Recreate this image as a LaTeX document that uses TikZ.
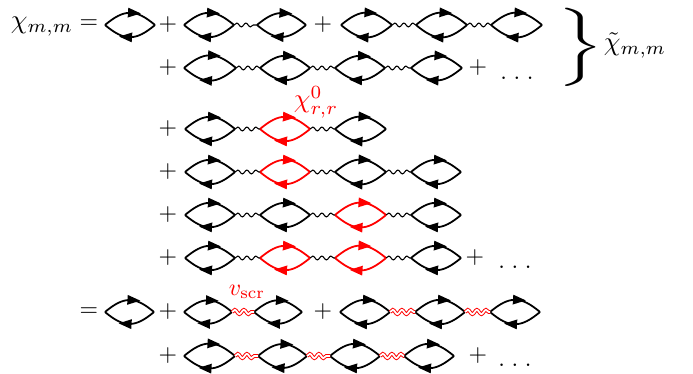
\documentclass[tikz,border=0pt]{standalone}
\usepackage{amsmath}
\usepackage{graphicx}
\usepackage{xcolor}
\usetikzlibrary{shapes.geometric, decorations.pathmorphing}

\begin{document}
\begin{tikzpicture}[
    x=0.42pt, y=0.42pt,
    bubblearc/.style={line width=0.75pt},
    tip/.style={shape=isosceles triangle, isosceles triangle apex angle=42, minimum height=5.4pt, inner sep=0pt, outer sep=0pt, pos=0.53, sloped, allow upside down},
    wiggle/.style={line width=0.45pt, decorate, decoration={snake, segment length=3.8pt, amplitude=0.8pt}},
    screened/.style={red, line width=0.4pt, double=white, double distance=0.75pt, decorate, decoration={snake, segment length=3.8pt, amplitude=0.9pt}},
    plus/.style={inner sep=0pt},
    biglabel/.style={inner sep=0pt, scale=1.12},
    redlabel/.style={biglabel, text=red}
]

% === BUBBLES: name / height / left end / right end / colour ===
\foreach \name/\ypos/\xl/\xr/\col in {
    aa/345/105/155/black, ab/345/184/234/black, ac/345/257/306/black, ad/345/341/392/black, ae/345/416/467/black, af/345/491/542/black,
    ba/302/184/236/black, bb/302/260/310/black, bc/302/335/385/black, bd/302/411/462/black,
    ca/241/185/235/black, cb/241/260/310/red, cc/241/335/386/black,
    da/198/185/235/black, db/198/260/310/red, dc/198/335/386/black, dd/198/411/461/black,
    ea/155/185/235/black, eb/155/260/310/black, ec/155/335/386/red, ed/155/411/461/black,
    fa/112/185/235/black, fb/112/260/310/red, fc/112/335/386/red, fd/112/411/461/black,
    ga/58/105/154/black, gb/58/184/232/black, gc/58/254/302/black, gd/58/340/390/black, ge/58/415/465/black, gf/58/490/540/black,
    ha/14/184/235/black, hb/14/258/307/black, hc/14/330/380/black, hd/14/404/454/black} {
    \coordinate (\name L) at (\xl, \ypos);
    \coordinate (\name R) at (\xr, \ypos);
    \draw[bubblearc, color=\col] (\name L) to[bend left=40, looseness=1.3] node[tip, fill=\col] (\name T) {} (\name R);
    \draw[bubblearc, color=\col] (\name R) to[bend left=40, looseness=1.3] node[tip, fill=\col] (\name B) {} (\name L);
}

% === INTERACTION LINES ===
\foreach \from/\to in {ab/ac, ad/ae, ae/af, ba/bb, bb/bc, bc/bd, ca/cb, cb/cc, da/db, db/dc, dc/dd, ea/eb, eb/ec, ec/ed, fa/fb, fb/fc, fc/fd} {
    \draw[wiggle] (\from R) -- (\to L);
}
\foreach \from/\to in {gb/gc, gd/ge, ge/gf, ha/hb, hb/hc, hc/hd} {
    \draw[screened] (\from R) -- (\to L);
}

% === PLUS SIGNS ===
\foreach \name/\xpos/\ypos in {pa/168/345, pb/323/345, pc/168/302, pd/478/302, pe/168/241, pf/168/198, pg/168/155, ph/168/112, pi/475/112, pj/168/58, pk/323/58, pl/168/14, pm/478/14} {
    \node[plus] (\name) at (\xpos, \ypos) {$+$};
}

% === DOTS ===
\node[plus, anchor=base] (dotsa) at (517, 291) {$.\;.\;.$};
\node[plus, anchor=base] (dotsb) at (515, 102) {$.\;.\;.$};
\node[plus, anchor=base] (dotsc) at (515, 4) {$.\;.\;.$};

% === LABELS ===
\node[biglabel] (chimm) at (42, 343) {$\chi_{m,m}$};
\node[plus] (eqa) at (89, 346) {$=$};
\node[plus] (eqb) at (89, 58) {$=$};
\node[plus] (brace) at (581, 323) {\scalebox{2.6}[1.37]{$\bigg\}$}};
\node[biglabel] (chitilde) at (635, 325) {$\tilde{\chi}_{m,m}$};
\node[redlabel] (chizero) at (316, 268) {$\chi^{0}_{r,r}$};
\node[plus, text=red] (vscr) at (247, 78) {$v_{\mathrm{scr}}$};

\useasboundingbox (0,0) rectangle (693,370);
\end{tikzpicture}
\end{document}
